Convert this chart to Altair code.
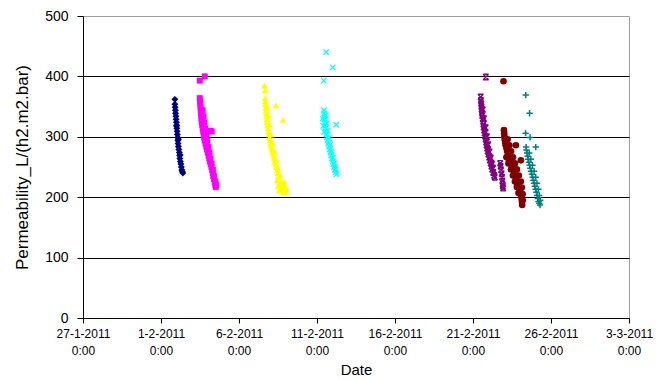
import altair as alt
import pandas as pd

# ---------------- data ----------------
navy_t = ["2011-02-01T21:20", "2011-02-01T21:20", "2011-02-01T21:45", "2011-02-01T22:05", "2011-02-01T22:20",
          "2011-02-01T22:55", "2011-02-01T23:15", "2011-02-01T23:40", "2011-02-02T00:05", "2011-02-02T00:25",
          "2011-02-02T00:50", "2011-02-02T01:10", "2011-02-02T01:35", "2011-02-02T02:00", "2011-02-02T02:20",
          "2011-02-02T02:45", "2011-02-02T03:30", "2011-02-02T04:15", "2011-02-02T04:40", "2011-02-02T05:00",
          "2011-02-02T05:50", "2011-02-02T06:35", "2011-02-02T07:20", "2011-02-02T08:05", "2011-02-02T08:50",
          "2011-02-02T09:35", "2011-02-01T23:50", "2011-02-02T02:50", "2011-02-02T05:30"]
navy_v = [362, 354, 349, 344, 339, 334, 329, 324, 319, 314,
          309, 304, 299, 294, 289, 284, 279, 274, 269, 264,
          259, 255, 250, 245, 242, 240, 318, 296, 270]

magenta_t = ["2011-02-03T19:20", "2011-02-03T11:40",
             "2011-02-03T11:40", "2011-02-03T12:00", "2011-02-03T12:25", "2011-02-03T12:50", "2011-02-03T13:10",
             "2011-02-03T13:35", "2011-02-03T14:00", "2011-02-03T14:20", "2011-02-03T14:45", "2011-02-03T15:30",
             "2011-02-03T16:15", "2011-02-03T17:00", "2011-02-03T17:50", "2011-02-03T18:30", "2011-02-03T19:20",
             "2011-02-03T20:30", "2011-02-03T21:40", "2011-02-03T22:50", "2011-02-04T00:00", "2011-02-04T01:10",
             "2011-02-04T02:15", "2011-02-04T03:30", "2011-02-04T04:35", "2011-02-04T05:40", "2011-02-04T06:50",
             "2011-02-04T07:40", "2011-02-04T08:25", "2011-02-04T09:30", "2011-02-04T10:40", "2011-02-04T11:30",
             "2011-02-04T12:15",
             "2011-02-03T16:00", "2011-02-03T17:20", "2011-02-03T18:40", "2011-02-03T20:00", "2011-02-03T21:30",
             "2011-02-03T23:00", "2011-02-04T00:45", "2011-02-04T02:30", "2011-02-04T04:00", "2011-02-04T05:50",
             "2011-02-04T07:40", "2011-02-04T09:20", "2011-02-04T11:40", "2011-02-04T12:40",
             "2011-02-04T03:30", "2011-02-04T06:00"]
magenta_v = [400, 393,
             364, 359, 354, 349, 344, 339, 334, 329, 324, 319,
             314, 309, 304, 299, 294, 289, 284, 279, 274, 269,
             264, 259, 255, 250, 245, 240, 235, 230, 225, 221, 217,
             344, 334, 324, 314, 304, 294, 284, 274, 264, 255, 245, 235, 226, 220,
             310, 309]

yellow_t = ["2011-02-07T15:20", "2011-02-07T16:25", "2011-02-08T08:45", "2011-02-08T19:30",
            "2011-02-07T16:10", "2011-02-07T16:30", "2011-02-07T16:55", "2011-02-07T17:20", "2011-02-07T17:40",
            "2011-02-07T18:00", "2011-02-07T18:25", "2011-02-07T18:50", "2011-02-07T19:10", "2011-02-07T20:00",
            "2011-02-07T20:45", "2011-02-07T21:30", "2011-02-07T22:15", "2011-02-07T23:00", "2011-02-07T23:50",
            "2011-02-08T00:30", "2011-02-08T01:20", "2011-02-08T02:30", "2011-02-08T03:40", "2011-02-08T04:50",
            "2011-02-08T06:00", "2011-02-08T07:10", "2011-02-08T08:15", "2011-02-08T09:30", "2011-02-08T10:35",
            "2011-02-08T11:45", "2011-02-08T12:55", "2011-02-08T14:00", "2011-02-08T15:10", "2011-02-08T16:20",
            "2011-02-08T17:30", "2011-02-08T18:40", "2011-02-08T19:45",
            "2011-02-07T19:20", "2011-02-07T20:50", "2011-02-07T22:30", "2011-02-08T01:15", "2011-02-08T03:30",
            "2011-02-08T06:15", "2011-02-08T09:20", "2011-02-08T12:00", "2011-02-08T15:00", "2011-02-08T18:00",
            "2011-02-08T20:30", "2011-02-08T22:30", "2011-02-09T00:30", "2011-02-08T23:00",
            "2011-02-08T10:30", "2011-02-08T12:00", "2011-02-09T01:00", "2011-02-08T22:00", "2011-02-08T14:00"]
yellow_v = [385, 377, 352, 328,
            364, 359, 354, 349, 344, 339, 334, 329, 324, 319,
            314, 309, 304, 299, 294, 289, 284, 279, 274, 269,
            264, 259, 255, 250, 245, 240, 235, 230, 225, 220,
            215, 211, 208,
            350, 336, 321, 304, 290, 276, 262, 248, 236, 224,
            214, 218, 214, 208,
            228, 218, 212, 225, 212]

cyan_t = ["2011-02-11T14:05", "2011-02-12T00:15", "2011-02-11T10:25", "2011-02-12T05:30",
          "2011-02-11T10:45", "2011-02-11T11:00", "2011-02-11T11:30", "2011-02-11T11:50", "2011-02-11T12:20",
          "2011-02-11T12:40", "2011-02-11T13:05", "2011-02-11T13:50", "2011-02-11T14:35", "2011-02-11T15:20",
          "2011-02-11T16:05", "2011-02-11T17:15", "2011-02-11T18:25", "2011-02-11T19:35", "2011-02-11T20:45",
          "2011-02-11T21:50", "2011-02-11T23:00", "2011-02-12T00:10", "2011-02-12T01:20", "2011-02-12T02:30",
          "2011-02-12T03:40", "2011-02-12T04:50", "2011-02-12T06:00",
          "2011-02-11T13:30", "2011-02-11T15:00", "2011-02-11T16:30", "2011-02-11T18:30", "2011-02-11T20:30",
          "2011-02-11T22:30", "2011-02-12T00:30", "2011-02-12T02:30", "2011-02-12T04:00",
          "2011-02-11T08:30", "2011-02-11T09:30", "2011-02-11T11:00"]
cyan_v = [440, 415, 393, 320,
          344, 339, 334, 329, 324, 319, 314, 309, 304, 299,
          294, 289, 284, 279, 274, 269, 264, 259, 255, 250,
          245, 241, 238,
          335, 322, 310, 298, 287, 276, 266, 256, 247,
          330, 318, 308]

purple_t = ["2011-02-21T19:50",
            "2011-02-21T11:50", "2011-02-21T12:10", "2011-02-21T12:35", "2011-02-21T13:00", "2011-02-21T13:20",
            "2011-02-21T13:40", "2011-02-21T14:05", "2011-02-21T14:50", "2011-02-21T15:40", "2011-02-21T16:00",
            "2011-02-21T16:25", "2011-02-21T17:10", "2011-02-21T18:00", "2011-02-21T18:45", "2011-02-21T19:30",
            "2011-02-21T20:15", "2011-02-21T21:00", "2011-02-21T21:50", "2011-02-21T22:35", "2011-02-21T23:45",
            "2011-02-22T00:55", "2011-02-22T02:00", "2011-02-22T03:10", "2011-02-22T04:20", "2011-02-22T05:30",
            "2011-02-22T07:00", "2011-02-22T08:35", "2011-02-22T09:30",
            "2011-02-21T15:00", "2011-02-21T17:00", "2011-02-21T19:30", "2011-02-21T21:30", "2011-02-21T23:30",
            "2011-02-22T01:30", "2011-02-22T03:30", "2011-02-22T05:30", "2011-02-22T07:00",
            "2011-02-22T17:50", "2011-02-22T18:30", "2011-02-22T19:20", "2011-02-22T20:00", "2011-02-22T20:50",
            "2011-02-22T21:10", "2011-02-22T21:35", "2011-02-22T22:00", "2011-02-22T22:25"]
purple_v = [399,
            366, 360, 355, 350, 345, 340, 335, 330, 326, 321,
            316, 311, 306, 301, 296, 291, 286, 281, 276, 271,
            266, 261, 256, 251, 246, 241, 236, 233,
            345, 330, 315, 300, 287, 275, 265, 255, 248,
            256, 251, 245, 239, 233, 227, 221, 218, 215]

darkred_t = ["2011-02-22T22:55", "2011-02-23T18:00", "2011-02-24T01:40", "2011-02-22T23:40",
             "2011-02-23T00:00", "2011-02-23T00:20", "2011-02-23T00:45", "2011-02-23T01:30", "2011-02-23T02:15",
             "2011-02-23T03:30", "2011-02-23T04:35", "2011-02-23T05:45", "2011-02-23T06:55", "2011-02-23T08:30",
             "2011-02-23T10:00", "2011-02-23T12:00", "2011-02-23T13:50", "2011-02-23T15:30", "2011-02-23T16:55",
             "2011-02-23T18:30", "2011-02-23T20:00", "2011-02-23T21:30", "2011-02-23T23:00", "2011-02-24T00:10",
             "2011-02-24T01:20", "2011-02-24T02:10", "2011-02-24T02:55", "2011-02-24T03:20", "2011-02-24T03:40",
             "2011-02-23T05:15", "2011-02-23T08:00", "2011-02-23T10:30", "2011-02-23T13:30", "2011-02-23T16:30",
             "2011-02-23T19:30", "2011-02-23T22:30", "2011-02-24T01:30", "2011-02-24T03:00", "2011-02-24T04:20",
             "2011-02-24T04:30",
             "2011-02-23T03:25", "2011-02-23T06:30", "2011-02-23T10:20", "2011-02-23T13:25", "2011-02-23T16:30",
             "2011-02-23T19:30", "2011-02-23T22:00"]
darkred_v = [392, 286, 261, 311,
             306, 301, 296, 291, 286, 281, 276, 271, 266, 261,
             256, 251, 246, 241, 236, 231, 226, 221, 217, 212,
             207, 202, 197, 192, 187,
             296, 286, 276, 266, 256, 246, 236, 226, 216, 205, 195,
             266, 256, 246, 236, 226, 217, 207]

teal_t = ["2011-02-24T09:10", "2011-02-24T15:00", "2011-02-24T08:55", "2011-02-24T15:50", "2011-02-25T00:35",
          "2011-02-24T09:40", "2011-02-24T10:10", "2011-02-24T11:10", "2011-02-24T12:00", "2011-02-24T12:45",
          "2011-02-24T14:00", "2011-02-24T15:05", "2011-02-24T16:10", "2011-02-24T17:20", "2011-02-24T18:30",
          "2011-02-24T19:40", "2011-02-24T20:50", "2011-02-24T22:00", "2011-02-24T23:10", "2011-02-25T00:15",
          "2011-02-25T01:30", "2011-02-25T02:35", "2011-02-25T03:40", "2011-02-25T04:50", "2011-02-25T06:00",
          "2011-02-25T07:10",
          "2011-02-24T14:30", "2011-02-24T17:00", "2011-02-24T19:30", "2011-02-24T22:00", "2011-02-25T00:30",
          "2011-02-25T02:30", "2011-02-25T04:30", "2011-02-25T06:00", "2011-02-25T07:30"]
teal_v = [369, 339, 306, 299, 283,
          283, 278, 273, 268, 263, 258, 253, 248, 243, 238,
          233, 228, 223, 218, 213, 208, 203, 198, 193, 190, 187,
          273, 263, 253, 243, 233, 223, 213, 203, 195]

tick_dates = [(2011, 1, 27), (2011, 2, 1), (2011, 2, 6), (2011, 2, 11),
              (2011, 2, 16), (2011, 2, 21), (2011, 2, 26), (2011, 3, 3)]
y_ticks = [0, 100, 200, 300, 400, 500]

FONT = "Liberation Sans"

# ---------------- chart ----------------
x_enc = alt.X(
    "t:T",
    scale=alt.Scale(domain=[alt.DateTime(year=2011, month=1, date=27),
                            alt.DateTime(year=2011, month=3, date=3)]),
    axis=alt.Axis(
        values=[alt.DateTime(year=y, month=m, date=d) for (y, m, d) in tick_dates],
        labelExpr="[timeFormat(datum.value, '%-d-%-m-%Y'), timeFormat(datum.value, '%-H:%M')]",
        title="Date", grid=False, labelAngle=0, labelFont=FONT, labelFontSize=12,
        labelColor="black", labelLineHeight=17, labelPadding=5, labelOverlap=False,
        labelFlush=False, tickSize=5, tickColor="black", domainColor="black",
        titleFont=FONT, titleFontSize=15, titleFontWeight="normal", titleColor="black",
        titleBaseline="middle", titleY=51,
    ),
)
y_enc = alt.Y(
    "v:Q",
    scale=alt.Scale(domain=[0, 500], nice=False),
    axis=alt.Axis(
        values=y_ticks, title="Permeability_L/(h2.m2.bar)", grid=True, gridColor="black",
        gridOpacity={"condition": {"test": "datum.value >= 500", "value": 0}, "value": 1},
        labelFont=FONT, labelFontSize=14, labelColor="black", labelPadding=9,
        tickSize=6, tickColor="black", domainColor="black",
        titleFont=FONT, titleFontSize=17, titleFontWeight="normal", titleColor="black",
        titleBaseline="middle", titleX=-61, titleY=151, titleAngle=270,
    ),
)


def layer(ts, vs, color, shape, size, filled, sw=1.0):
    df = pd.DataFrame({"t": ts, "v": vs})
    if filled:
        m = alt.Chart(df).mark_point(shape=shape, filled=True, color=color, opacity=1, size=size, strokeWidth=0)
    else:
        m = alt.Chart(df).mark_point(shape=shape, filled=False, color=color, opacity=1, size=size, strokeWidth=sw)
    return m.encode(x=x_enc, y=y_enc)


XMARK = "M-1,-1L1,1M-1,1L1,-1"
PLUS = "M-1,0L1,0M0,-1L0,1"
HOURGLASS = "M-1,-1L1,-1M-1,1L1,1M-1,-1L1,1M1,-1L-1,1"

chart = alt.layer(
    layer(navy_t, navy_v, "#000080", "diamond", 48, True),
    layer(magenta_t, magenta_v, "#FF00FF", "square", 36, True),
    layer(yellow_t, yellow_v, "#FFFF00", "triangle-up", 46, True),
    layer(cyan_t, cyan_v, "#00FFFF", XMARK, 30, False, 1.2),
    layer(purple_t, purple_v, "#800080", HOURGLASS, 30, False, 1.4),
    layer(darkred_t, darkred_v, "#800000", "circle", 44, True),
    layer(teal_t, teal_v, "#008080", PLUS, 40, False, 1.5),
).properties(
    width=546, height=302,
    autosize=alt.AutoSizeParams(type="none"),
    padding={"left": 83, "top": 16, "right": 35, "bottom": 62},
    background="white",
).configure_view(stroke="#a0a0a0", strokeWidth=1)

chart.save("out.html", embed_options={"renderer": "svg", "actions": False})
